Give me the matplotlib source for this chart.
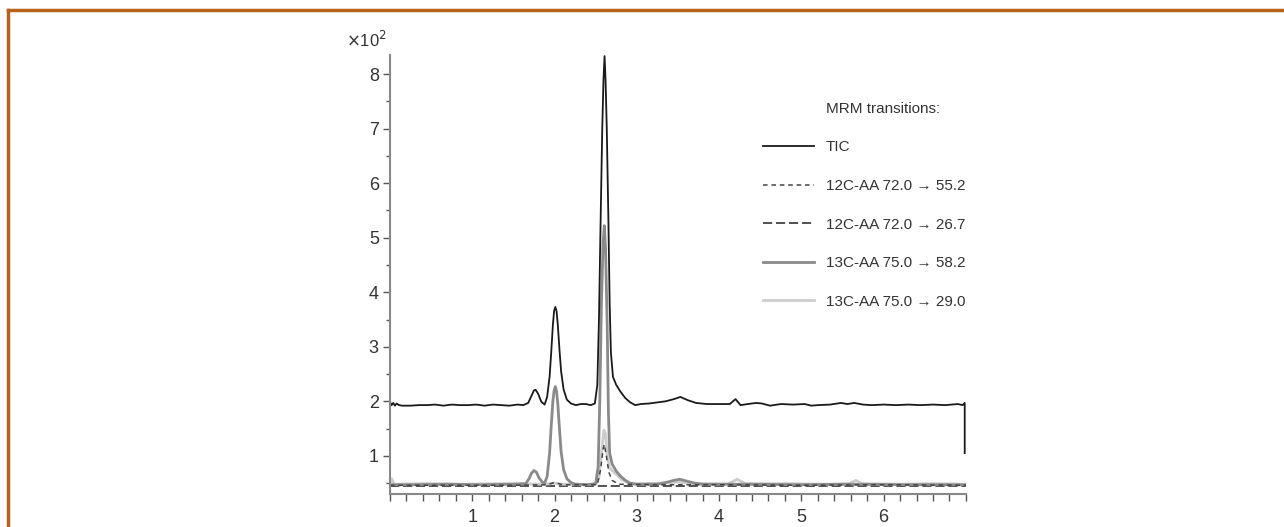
import matplotlib
matplotlib.use("Agg")
import matplotlib.pyplot as plt
from matplotlib.lines import Line2D
from matplotlib.ticker import MultipleLocator

plt.rcParams["font.family"] = ["Liberation Sans Narrow", "Liberation Sans", "DejaVu Sans"]

# TIC trace (x10^2 counts vs minutes)
tic_t = [0.0, 0.02, 0.04, 0.06, 0.08, 0.11, 0.15, 0.25, 0.35, 0.45, 0.55, 0.65, 0.75, 0.85, 0.95,
         1.05, 1.15, 1.25, 1.35, 1.45, 1.55, 1.62, 1.68, 1.72, 1.75, 1.77, 1.80, 1.84, 1.88,
         1.91, 1.94, 1.96, 1.98, 1.995, 2.01, 2.025, 2.04, 2.06, 2.08, 2.11, 2.15, 2.20, 2.26, 2.32,
         2.38, 2.44, 2.49,
         2.52, 2.54, 2.56, 2.58, 2.595, 2.608, 2.62, 2.635, 2.655, 2.67, 2.685, 2.71, 2.75, 2.80,
         2.86, 2.92, 2.98, 3.05, 3.15, 3.25, 3.35, 3.45, 3.53, 3.62, 3.72, 3.85, 4.00, 4.13, 4.20,
         4.26, 4.35, 4.45, 4.52, 4.62, 4.75, 4.90, 5.04, 5.12, 5.20, 5.35, 5.48, 5.56, 5.64, 5.75,
         5.85, 6.00, 6.15, 6.30, 6.45, 6.60, 6.75, 6.90, 6.96, 6.985, 6.985]
tic_v = [1.99, 1.93, 1.97, 1.92, 1.96, 1.93, 1.92, 1.92, 1.93, 1.93, 1.94, 1.92, 1.94, 1.93, 1.93,
         1.94, 1.92, 1.94, 1.93, 1.92, 1.94, 1.93, 1.97, 2.10, 2.20, 2.21, 2.14, 1.99, 1.94,
         2.08, 2.45, 2.90, 3.40, 3.66, 3.73, 3.65, 3.40, 2.95, 2.55, 2.22, 2.03, 1.96, 1.93, 1.95,
         1.95, 1.93, 1.96,
         2.30, 3.50, 5.30, 7.00, 7.90, 8.33, 7.90, 7.00, 5.30, 3.80, 2.90, 2.45, 2.30, 2.18,
         2.06, 1.98, 1.93, 1.95, 1.96, 1.98, 2.00, 2.04, 2.08, 2.02, 1.97, 1.95, 1.95, 1.95, 2.04,
         1.93, 1.95, 1.97, 1.96, 1.92, 1.95, 1.94, 1.95, 1.92, 1.93, 1.94, 1.97, 1.95, 1.97, 1.94,
         1.93, 1.94, 1.93, 1.94, 1.93, 1.94, 1.93, 1.95, 1.93, 1.97, 1.05]

# 12C-AA 72.0 -> 55.2
c12a_t = [0.0, 0.5, 1.0, 1.5, 1.9, 2.0, 2.1, 2.52, 2.56, 2.59, 2.605, 2.63, 2.66, 2.70, 2.78, 3.2, 4.0, 5.0, 6.0, 7.0]
c12a_v = [0.46, 0.46, 0.46, 0.46, 0.47, 0.51, 0.47, 0.47, 0.75, 1.12, 1.21, 1.00, 0.70, 0.55, 0.48, 0.47, 0.47, 0.46, 0.47, 0.46]

# 12C-AA 72.0 -> 26.7
c12b_t = [0.0, 1.0, 2.0, 3.0, 4.0, 5.0, 6.0, 7.0]
c12b_v = [0.44, 0.44, 0.44, 0.44, 0.44, 0.44, 0.44, 0.44]

# 13C-AA 75.0 -> 58.2
c13a_t = [0.0, 0.3, 0.7, 1.1, 1.5, 1.65, 1.69, 1.72, 1.75, 1.78, 1.81, 1.85, 1.88, 1.91, 1.94,
          1.96, 1.98, 1.995, 2.01, 2.025, 2.04, 2.06, 2.08, 2.11, 2.15, 2.20, 2.25, 2.40, 2.50,
          2.53, 2.55, 2.57, 2.59, 2.605, 2.62, 2.64, 2.655, 2.67, 2.70, 2.75, 2.80, 2.86, 2.92,
          3.00, 3.25, 3.35, 3.45, 3.52, 3.60, 3.70, 3.80, 4.3, 5.0, 5.6, 6.3, 7.0]
c13a_v = [0.47, 0.47, 0.48, 0.47, 0.48, 0.49, 0.58, 0.68, 0.73, 0.70, 0.60, 0.52, 0.50, 0.62, 1.05,
          1.55, 2.00, 2.20, 2.27, 2.18, 1.95, 1.50, 1.08, 0.75, 0.58, 0.51, 0.48, 0.47, 0.49,
          0.80, 2.00, 3.80, 4.90, 5.22, 4.80, 3.40, 1.80, 1.05, 0.85, 0.72, 0.63, 0.55, 0.50,
          0.48, 0.48, 0.51, 0.55, 0.57, 0.54, 0.50, 0.48, 0.48, 0.47, 0.48, 0.47, 0.47]

# 13C-AA 75.0 -> 29.0
c13b_t = [0.0, 0.02, 0.05, 0.4, 0.9, 1.4, 1.9, 2.0, 2.1, 2.50, 2.54, 2.57, 2.60, 2.62, 2.64, 2.67,
          2.72, 2.76, 2.82, 2.90, 2.95, 3.30, 3.50, 3.70, 4.10, 4.22, 4.32, 4.8, 5.3, 5.58, 5.66,
          5.74, 6.2, 6.6, 7.0]
c13b_v = [0.50, 0.58, 0.48, 0.49, 0.48, 0.49, 0.48, 0.50, 0.48, 0.48, 0.60, 1.05, 1.47, 1.40, 1.00, 0.78,
          0.70, 0.65, 0.56, 0.50, 0.48, 0.50, 0.52, 0.49, 0.48, 0.57, 0.49, 0.49, 0.48, 0.49, 0.55,
          0.49, 0.48, 0.49, 0.48]

x_ticks = [1, 2, 3, 4, 5, 6]
y_ticks = [1, 2, 3, 4, 5, 6, 7, 8]

fig = plt.figure(figsize=(12.84, 5.27), dpi=100)
ax = fig.add_axes([0.3037, 0.0626, 0.4486, 0.833])

ax.plot(c12b_t, c12b_v, color="#222222", lw=1.1, dashes=(6, 2.5))
ax.plot(c13b_t, c13b_v, color="#cccccc", lw=2.0)
ax.plot(c13a_t, c13a_v, color="#8a8a8a", lw=2.0)
ax.plot(c12a_t, c12a_v, color="#444444", lw=1.1, dashes=(3, 2.5))
ax.plot(tic_t, tic_v, color="#1a1a1a", lw=1.3)

ax.set_xlim(0, 7)
ax.set_ylim(0.3, 8.35)
ax.set_xticks(x_ticks)
ax.set_yticks(y_ticks)
ax.xaxis.set_minor_locator(MultipleLocator(0.2))
ax.yaxis.set_minor_locator(MultipleLocator(0.5))
for s in ["top", "right"]:
    ax.spines[s].set_visible(False)
for s in ["left", "bottom"]:
    ax.spines[s].set_color("#888888")
    ax.spines[s].set_linewidth(1.5)
ax.tick_params(axis="both", which="both", colors="#555555", labelcolor="#333333", labelsize=13)
ax.tick_params(axis="x", which="both", length=5, width=1, pad=6)
ax.tick_params(axis="y", which="major", length=5, width=1, pad=3)
ax.tick_params(axis="y", which="minor", length=3, width=1)

# axis title sits at the bottom edge, partly cut like in the source figure
ax.set_xlabel("Counts vs. Acquisition Time (min)", fontsize=13, color="#333333", labelpad=3)
fig.text(0.285, 0.925, r"$\times$10$^2$", fontsize=12, color="#333333", ha="center", va="center")

handles = [
    Line2D([], [], color="none"),
    Line2D([], [], color="#1a1a1a", lw=1.3),
    Line2D([], [], color="#444444", lw=1.1, dashes=(3, 2.5)),
    Line2D([], [], color="#222222", lw=1.1, dashes=(6, 2.5)),
    Line2D([], [], color="#8a8a8a", lw=2.0),
    Line2D([], [], color="#cccccc", lw=2.0),
]
labels = ["MRM transitions:", "TIC", "12C-AA 72.0 \u2192 55.2", "12C-AA 72.0 \u2192 26.7",
          "13C-AA 75.0 \u2192 58.2", "13C-AA 75.0 \u2192 29.0"]
leg = fig.legend(handles, labels, loc="upper left", bbox_to_anchor=(0.5946, 0.807), frameon=False,
                 fontsize=11, handlelength=3.3, handletextpad=0.8, labelspacing=1.61,
                 borderpad=0, borderaxespad=0)
for t in leg.get_texts():
    t.set_color("#333333")

# orange frame (top and left edges)
frame = "#b8621b"
fig.add_artist(Line2D([0.0066, 1.0], [0.981, 0.981], transform=fig.transFigure, color=frame, lw=2.5))
fig.add_artist(Line2D([0.0066, 0.0066], [0.0, 0.981], transform=fig.transFigure, color=frame, lw=2.5))

fig.savefig("out.png", dpi=100)
